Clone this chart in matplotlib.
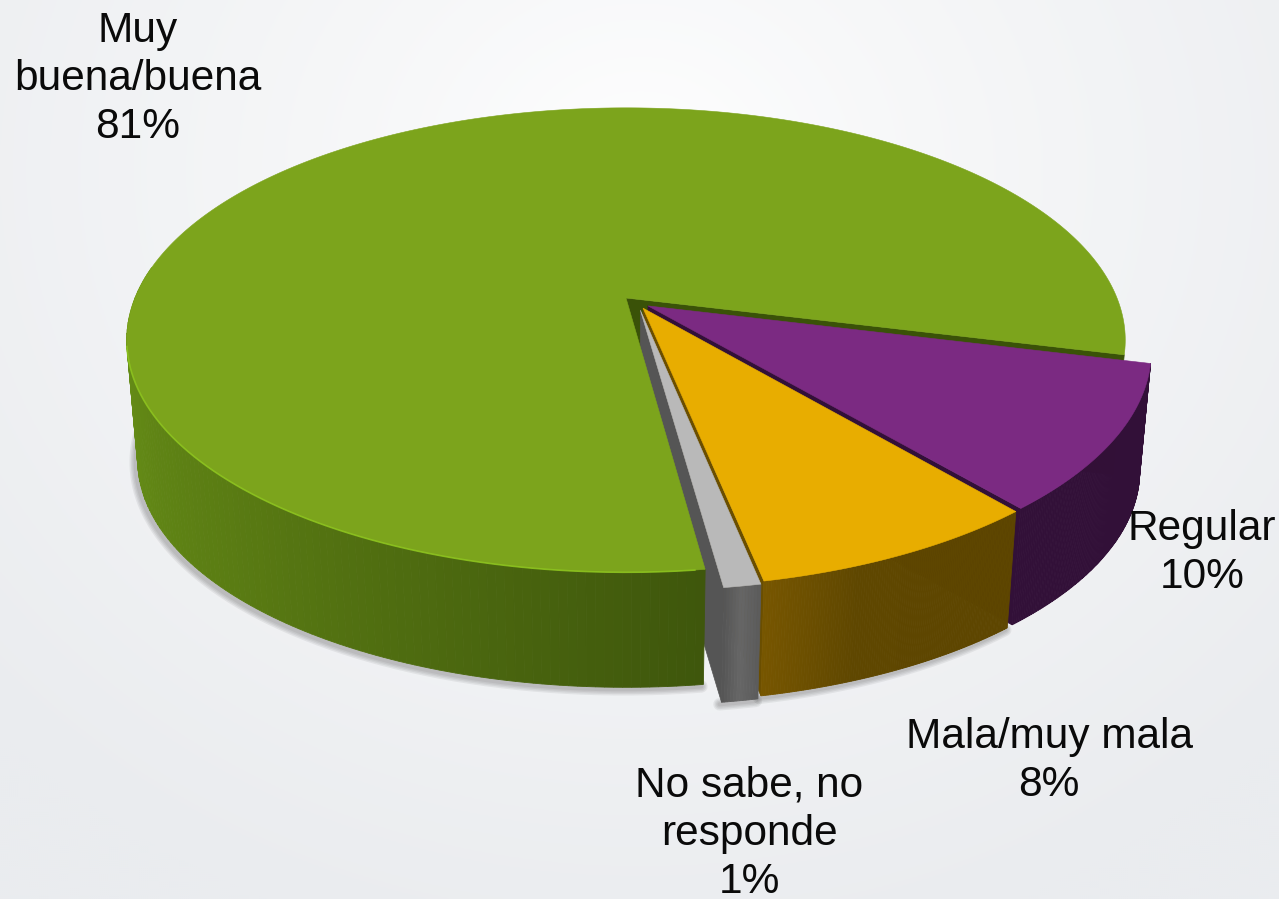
import numpy as np
import matplotlib
matplotlib.use('Agg')
import matplotlib.pyplot as plt
from matplotlib.colors import to_rgb

plt.rcParams['font.family'] = ['Liberation Sans', 'DejaVu Sans']

# Chart data, order is counter clockwise from the right hand cut
categories = ['Muy\nbuena/buena', 'No sabe, no\nresponde', 'Mala/muy mala', 'Regular']
values = [81, 1, 8, 10]
start_angle = -14.0

top_colors = ['#7CA41C', '#B9B9B9', '#E8AD00', '#7B2A82']
side_colors = [['#6C9719', '#5A7C13', '#3F570C'],
               ['#565656', '#666666', '#5C5C5C'],
               ['#775600', '#5F4700', '#5E4600', '#5E4600'],
               ['#321038', '#321038', '#321038']]
wall_colors = ['#3A5208', '#555555', '#6A4E00', '#321038']
shift_x = [0.0, 0.029, 0.0345, 0.0445]
shift_y = [0.0, -0.054, -0.045, -0.035]
label_xy = [(138, 79), (749, 834), (1049, 761), (1202, 553)]

# Perspective of the disc, in pixels
cx, cy = 626.0, 298.0
rx, ry = 491.0, 224.6
persp = 5.52
vanish = (625.0, 5800.0)
shrink = 0.978


def project(x, y, bottom=False):
    s = persp / (persp + y)
    px = cx + rx * x * s
    py = cy - ry * y * s
    if bottom:
        px = vanish[0] + shrink * (px - vanish[0])
        py = vanish[1] + shrink * (py - vanish[1])
    return px, py


def rim(a0, a1, off, bottom=False, n=200):
    t = np.radians(np.linspace(a0, a1, n))
    return project(np.cos(t) + off[0], np.sin(t) + off[1], bottom)


def mix(stops, f):
    stops = np.array([to_rgb(c) for c in stops])
    return [np.interp(f, np.linspace(0, 1, len(stops)), stops[:, i]) for i in range(3)]


def side(ax, a0, a1, off, stops, n=120):
    edges = np.linspace(a0, a1, n + 1)
    for i in range(n):
        xt, yt = rim(edges[i], edges[i + 1], off, n=4)
        xb, yb = rim(edges[i], edges[i + 1], off, True, n=4)
        ax.fill(np.r_[xt, xb[::-1]], np.r_[yt, yb[::-1]], color=mix(stops, i / (n - 1)), lw=0.6, zorder=3)


def wall(ax, angle, off, color):
    t = np.radians(angle)
    a_t = project(off[0], off[1])
    a_b = project(off[0], off[1], True)
    o_t = project(np.cos(t) + off[0], np.sin(t) + off[1])
    o_b = project(np.cos(t) + off[0], np.sin(t) + off[1], True)
    ax.fill([a_t[0], o_t[0], o_b[0], a_b[0]], [a_t[1], o_t[1], o_b[1], a_b[1]], color=color, lw=0.5, zorder=3)


def top(ax, a0, a1, off, color):
    x, y = rim(a0, a1, off, n=400)
    a = project(off[0], off[1])
    ax.fill(np.r_[a[0], x], np.r_[a[1], y], color=color, lw=0.4, zorder=3)


def shadow(ax, a0, a1, off):
    x, y = rim(a0, a1, off, True)
    for w in [9, 7, 5, 3]:
        ax.plot(x - 2, y + 2, color='#3A3A3A', alpha=0.08, lw=w, solid_capstyle='round', zorder=2)


fig = plt.figure(figsize=(12.79, 8.99), dpi=100)
ax = fig.add_axes([0, 0, 1, 1])

# Background
yy, xx = np.mgrid[0:899:2, 0:1279:2]
r = np.clip(np.hypot((xx - 640) / 900.0, (yy - 170) / 800.0), 0, 1)
bg = np.dstack([1 - (1 - np.array(c)) * r ** 0.8 for c in to_rgb('#EAECEF')])
ax.imshow(bg, extent=(0, 1279, 899, 0), aspect='auto', zorder=0)

# Angles and offsets of the slices
sweeps = np.array(values) * 3.6
starts = start_angle + np.r_[0, np.cumsum(sweeps)[:-1]]
ends = starts + sweeps
offs = list(zip(shift_x, shift_y))

# Back to front: cut faces, then sides and tops
wall(ax, starts[0], offs[0], wall_colors[0])
wall(ax, starts[3], offs[3], wall_colors[3])
wall(ax, starts[2], offs[2], wall_colors[2])
wall(ax, starts[1], offs[1], wall_colors[1])

shadow(ax, 172, ends[0], offs[0])
side(ax, 172, ends[0], offs[0], side_colors[0])
top(ax, starts[0], ends[0], offs[0], top_colors[0])
xr, yr = rim(192, ends[0] - 1, offs[0])
ax.plot(xr, yr, color='#8FC71F', lw=1.2, alpha=0.8, zorder=3)

side(ax, starts[3], ends[3], offs[3], side_colors[3])
top(ax, starts[3], ends[3], offs[3], top_colors[3])

shadow(ax, starts[2], ends[2], offs[2])
side(ax, starts[2], ends[2], offs[2], side_colors[2])
top(ax, starts[2], ends[2], offs[2], top_colors[2])

shadow(ax, starts[1], ends[1], offs[1])
side(ax, starts[1], ends[1], offs[1], side_colors[1], n=12)
top(ax, starts[1], ends[1], offs[1], top_colors[1])

for name, val, (lx, ly) in zip(categories, values, label_xy):
    ax.text(lx, ly, '{}\n{}%'.format(name, val), ha='center', va='center', fontsize=30.5,
            color='#0A0A0A', linespacing=1.27, zorder=5)

ax.set_xlim(0, 1279)
ax.set_ylim(899, 0)
ax.axis('off')

fig.savefig('out.png', dpi=100)
